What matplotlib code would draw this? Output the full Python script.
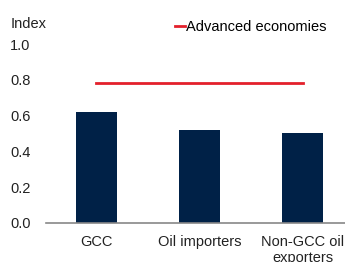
import matplotlib.pyplot as plt

plt.rcParams['font.family'] = ['Liberation Sans', 'DejaVu Sans']

# data
groups = ['GCC', 'Oil importers', 'Non-GCC oil\nexporters']
index_values = [0.62, 0.52, 0.50]
advanced = 0.78
y_ticks = [0.0, 0.2, 0.4, 0.6, 0.8, 1.0]

fig = plt.figure(figsize=(3.45, 2.62), dpi=100)
ax = fig.add_axes([0.133, 0.149, 0.9, 0.683])

x = list(range(len(groups)))
ax.bar(x, index_values, width=0.4, color='#002147', zorder=2)
ax.plot([x[0], x[-1]], [advanced, advanced], color='#e3202b', lw=2,
        label='Advanced economies', zorder=3)

ax.set_xlim(-0.49, 2.52)
ax.set_ylim(0, 1.0)
ax.set_yticks(y_ticks)
ax.set_yticklabels(['%.1f' % v for v in y_ticks])
ax.set_xticks(x)
ax.set_xticklabels(groups, linespacing=1.15)
ax.tick_params(axis='both', length=0, labelsize=10.5, colors='#222222')
ax.tick_params(axis='x', pad=9)
ax.tick_params(axis='y', pad=11)

for s in ['top', 'right', 'left']:
    ax.spines[s].set_visible(False)
ax.spines['bottom'].set_color('#888888')
ax.spines['bottom'].set_linewidth(1.2)

fig.text(0.03, 0.91, 'Index', fontsize=10.5, color='#222222', va='center')
ax.legend(loc='upper left', bbox_to_anchor=(0.415, 1.135), frameon=False,
          fontsize=10.5, handlelength=0.7, handletextpad=0.1,
          borderaxespad=0, borderpad=0)

fig.savefig('out.png', dpi=100)
